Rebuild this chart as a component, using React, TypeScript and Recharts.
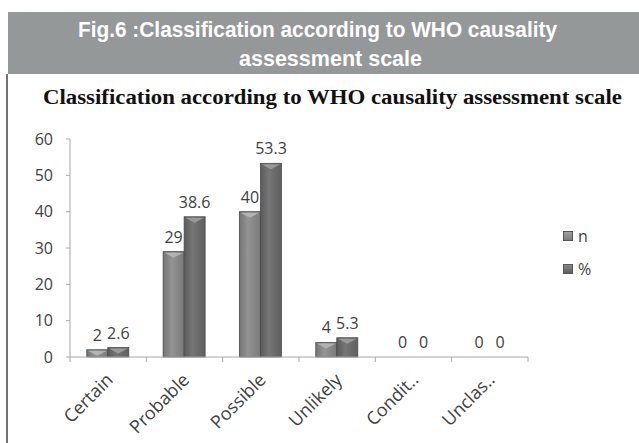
import React from 'react';
import { BarChart, Bar, XAxis, YAxis, LabelList } from 'recharts';

const categories = ['Certain', 'Probable', 'Possible', 'Unlikely', 'Condit..', 'Unclas..'];
const nValues = [2, 29, 40, 4, 0, 0];
const pctValues = [2.6, 38.6, 53.3, 5.3, 0, 0];
const yTicks = [0, 10, 20, 30, 40, 50, 60];
const seriesNames = ['n', '%'];

const data = categories.map((c, i) => ({ name: c, n: nValues[i], pct: pctValues[i] }));

const FONT = '"Open Sans", sans-serif';
const TXT = '#404040';
const FS = 16;

const makeBevel = (light: string) => (props: any) => {
  const { x, y, width, height, fill } = props;
  if (!height || height <= 0) return null;
  const b = Math.min(6, height);
  return (
    <g>
      <rect x={x} y={y} width={width} height={height} fill={fill} stroke="#4a4a4a" strokeWidth={0.8} />
      <polygon
        points={`${x + 1},${y + 1} ${x + width - 1},${y + 1} ${x + width / 2},${y + b}`}
        fill={light}
        opacity={0.85}
      />
    </g>
  );
};

const NShape = makeBevel('#b8b8b8');
const PShape = makeBevel('#a0a0a0');

const XTick = (props: any) => {
  const { x, y, payload } = props;
  const half = payload && payload.offset ? payload.offset : 38;
  const isLast = payload.index === categories.length - 1;
  const ax = x + 6;
  const ay = y + 24;
  return (
    <g>
      <line x1={x - half} y1={y} x2={x - half} y2={y + 5} stroke="#a6a6a6" />
      {isLast && <line x1={x + half} y1={y} x2={x + half} y2={y + 5} stroke="#a6a6a6" />}
      <text
        x={ax}
        y={ay}
        textAnchor="end"
        transform={`rotate(-45, ${ax}, ${ay})`}
        fontSize={18}
        fontFamily={FONT}
        fill={TXT}
      >
        {payload.value}
      </text>
    </g>
  );
};

export default function App() {
  return (
    <div style={{ position: 'absolute', left: 0, top: 0, width: 639, height: 443, background: '#fff', overflow: 'hidden' }}>
      <svg width={639} height={443} style={{ position: 'absolute', left: 0, top: 0 }}>
        <rect x={8} y={12} width={631} height={62} fill="#959898" />
        <text x={78} y={37} textLength={479} lengthAdjust="spacingAndGlyphs" fontFamily='"Liberation Sans", Arial, sans-serif' fontWeight="bold" fontSize={22} fill="#fff">
          Fig.6 :Classification according to WHO causality
        </text>
        <text x={239} y={66} textLength={183} lengthAdjust="spacingAndGlyphs" fontFamily='"Liberation Sans", Arial, sans-serif' fontWeight="bold" fontSize={22} fill="#fff">
          assessment scale
        </text>
        <line x1={7} y1={74} x2={7} y2={443} stroke="#444" strokeWidth={1.5} />
        <text x={43} y={104} textLength={579} lengthAdjust="spacingAndGlyphs" fontFamily='"Liberation Serif", "Times New Roman", serif' fontWeight="bold" fontSize={20} fill="#111">
          Classification according to WHO causality assessment scale
        </text>
      </svg>
      <div style={{ position: 'absolute', left: 0, top: 0 }}>
        <BarChart
          width={639}
          height={443}
          data={data}
          margin={{ top: 139, right: 111, bottom: 0, left: 0 }}
          barCategoryGap="22%"
          barGap={0}
        >
          <defs>
            <linearGradient id="gN" x1="0" y1="0" x2="1" y2="0">
              <stop offset="0%" stopColor="#747474" />
              <stop offset="40%" stopColor="#949494" />
              <stop offset="100%" stopColor="#7a7a7a" />
            </linearGradient>
            <linearGradient id="gP" x1="0" y1="0" x2="1" y2="0">
              <stop offset="0%" stopColor="#5a5a5a" />
              <stop offset="40%" stopColor="#767676" />
              <stop offset="100%" stopColor="#5e5e5e" />
            </linearGradient>
          </defs>
          <XAxis
            dataKey="name"
            height={86}
            tickSize={0}
            tickMargin={0}
            tickLine={false}
            axisLine={{ stroke: '#a6a6a6' }}
            tick={<XTick />}
            interval={0}
          />
          <YAxis
            width={70}
            domain={[0, 60]}
            ticks={yTicks}
            tickSize={4}
            tickMargin={13}
            axisLine={{ stroke: '#a6a6a6' }}
            tickLine={{ stroke: '#a6a6a6' }}
            tick={{ fontSize: FS, fontFamily: FONT, fill: TXT }}
          />
          <Bar dataKey="n" name={seriesNames[0]} fill="url(#gN)" shape={NShape} isAnimationActive={false}>
            <LabelList dataKey="n" position="top" offset={9} fontSize={FS} fontFamily={FONT} fill={TXT} />
          </Bar>
          <Bar dataKey="pct" name={seriesNames[1]} fill="url(#gP)" shape={PShape} isAnimationActive={false}>
            <LabelList dataKey="pct" position="top" offset={9} fontSize={FS} fontFamily={FONT} fill={TXT} />
          </Bar>
        </BarChart>
      </div>
      {seriesNames.map((s, i) => (
        <div key={s} style={{ position: 'absolute', left: 563, top: 225 + i * 33, height: 22, display: 'flex', alignItems: 'center', fontFamily: FONT, fontSize: FS, color: TXT }}>
          <div style={{ width: 10, height: 10, background: i === 0 ? 'linear-gradient(#a0a0a0,#7c7c7c)' : 'linear-gradient(#888,#5e5e5e)', border: '1px solid #555', boxSizing: 'border-box', marginRight: 5 }} />
          <span>{s}</span>
        </div>
      ))}
    </div>
  );
}
